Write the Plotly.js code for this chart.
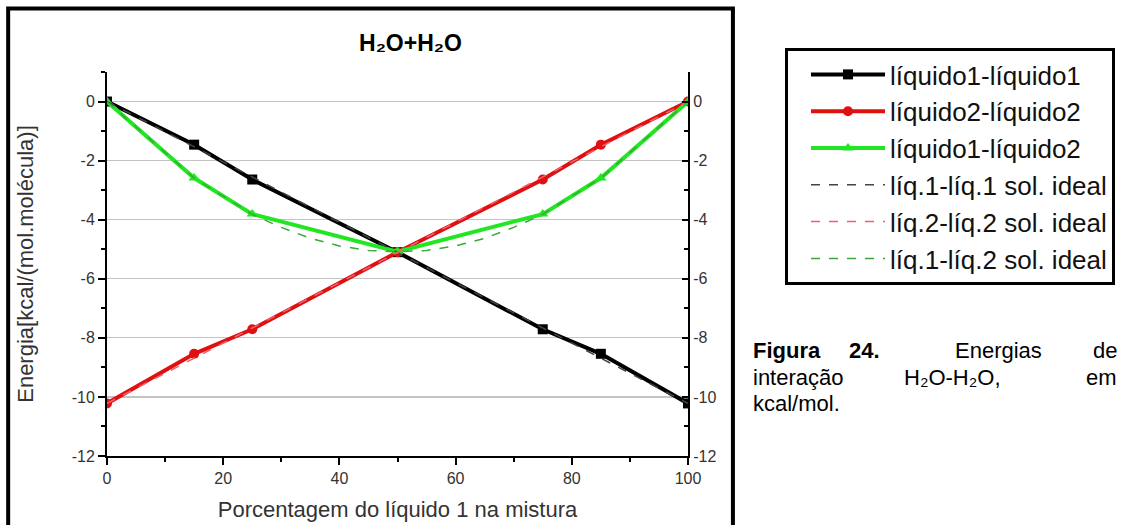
<!DOCTYPE html>
<html>
<head>
<meta charset="utf-8">
<script src="https://cdn.plot.ly/plotly-3.0.1.min.js"></script>
<style>html,body{margin:0;padding:0;background:#fff;}#chart{width:1126px;height:525px;}</style>
</head>
<body>
<div id="chart"></div>
<script>
// ---- data ----
const pct = [0, 15, 25, 50, 75, 85, 100];
const liq11 = [0, -1.46, -2.64, -5.10, -7.71, -8.54, -10.22];
const liq22 = [-10.22, -8.54, -7.71, -5.10, -2.64, -1.46, 0];
const liq12 = [0, -2.59, -3.81, -5.08, -3.81, -2.59, 0];
const pctIdeal = [0, 15, 25, 50, 75, 85, 100];
const liq11Ideal = [0, -1.53, -2.56, -5.11, -7.67, -8.69, -10.22];
const liq22Ideal = [-10.22, -8.69, -7.67, -5.11, -2.56, -1.53, 0];
const pctIdeal12 = [0, 15, 25, 30, 35, 40, 45, 50, 55, 60, 65, 70, 75, 85, 100];
const liq12Ideal = [0, -2.59, -3.82, -4.26, -4.63, -4.89, -5.04, -5.09, -5.04, -4.89, -4.63, -4.26, -3.82, -2.59, 0];
const names = ['líquido1-líquido1', 'líquido2-líquido2', 'líquido1-líquido2',
               'líq.1-líq.1 sol. ideal', 'líq.2-líq.2 sol. ideal', 'líq.1-líq.2 sol. ideal'];
const yTicks = [0, -2, -4, -6, -8, -10, -12];
const xTicks = [0, 20, 40, 60, 80, 100];

// ---- geometry ----
const L = 107, R = 689, T = 72, B = 456;
const W = R - L, H = B - T;
const px = v => (v - L) / W;
const py = v => (B - v) / H;
const FONT = 'Arial, "Liberation Sans", sans-serif';

const traces = [
  {x: pct, y: liq11, name: names[0], mode: 'lines+markers',
   line: {color: '#000000', width: 4}, marker: {symbol: 'square', size: 10, color: '#000000'}},
  {x: pct, y: liq22, name: names[1], mode: 'lines+markers',
   line: {color: '#e01010', width: 4}, marker: {symbol: 'circle', size: 10, color: '#e01010'}},
  {x: pct, y: liq12, name: names[2], mode: 'lines+markers',
   line: {color: '#22e622', width: 4}, marker: {symbol: 'triangle-up', size: 10, color: '#22e622'}},
  {x: pctIdeal, y: liq11Ideal, name: names[3], mode: 'lines',
   line: {color: '#444444', width: 1.5, dash: 'dash'}},
  {x: pctIdeal, y: liq22Ideal, name: names[4], mode: 'lines',
   line: {color: '#f06070', width: 1.5, dash: 'dash'}},
  {x: pctIdeal12, y: liq12Ideal, name: names[5], mode: 'lines',
   line: {color: '#3aa83a', width: 1.5, dash: 'dash'}},
  {x: [], y: [], yaxis: 'y2', showlegend: false, hoverinfo: 'skip', mode: 'lines'}
];

const captionFont = {family: FONT, size: 22, color: '#000'};
const caption = [
  ['Figura', 752, 'left', 350, 'bold'],
  ['24.', 848, 'left', 350, 'bold'],
  ['Energias', 1000, 'center', 350, 'normal'],
  ['de', 1121, 'right', 350, 'normal'],
  ['interação', 752, 'left', 377, 'normal'],
  ['H₂O-H₂O,', 954, 'center', 377, 'normal'],
  ['em', 1121, 'right', 377, 'normal'],
  ['kcal/mol.', 752, 'left', 403, 'normal']
];

const annotations = caption.map(c => ({
  text: c[0], xref: 'paper', yref: 'paper', x: px(c[1]), y: py(c[3]),
  xanchor: c[2], yanchor: 'middle', showarrow: false,
  font: Object.assign({}, captionFont, {weight: c[4]})
}));

const layout = {
  width: 1126, height: 525,
  margin: {l: L, r: 1126 - R, t: T, b: 525 - B, pad: 0},
  paper_bgcolor: '#ffffff', plot_bgcolor: '#ffffff',
  font: {family: FONT, color: '#333'},
  title: {
    text: 'H₂O+H₂O',
    font: {family: FONT, size: 23, color: '#000', weight: 'bold'},
    xref: 'paper', x: px(411), xanchor: 'center',
    yref: 'container', y: 1 - 43 / 525, yanchor: 'middle'
  },
  xaxis: {
    range: [0, 100], tickvals: xTicks, ticktext: xTicks.map(String),
    showline: true, linecolor: '#000', linewidth: 2,
    ticks: 'outside', ticklen: 7, tickwidth: 2, tickcolor: '#000',
    minor: {dtick: 10, tick0: 0, ticks: 'outside', ticklen: 4, tickwidth: 2, tickcolor: '#000', showgrid: false},
    showgrid: false, zeroline: false,
    tickfont: {family: FONT, size: 16, color: '#333'},
    title: {text: 'Porcentagem do líquido 1 na mistura', font: {family: FONT, size: 22, color: '#333'}, standoff: 15},
    automargin: false
  },
  yaxis: {
    range: [-12, 1], tickvals: yTicks, ticktext: yTicks.map(String),
    showline: true, linecolor: '#000', linewidth: 2,
    ticks: 'outside', ticklen: 7, tickwidth: 2, tickcolor: '#000',
    minor: {dtick: 1, tick0: 0, ticks: 'outside', ticklen: 4, tickwidth: 2, tickcolor: '#000', showgrid: false},
    showgrid: true, gridcolor: '#c4c4c4', gridwidth: 1.2, zeroline: false,
    tickfont: {family: FONT, size: 16, color: '#333'},
    title: {text: 'Energia[kcal/(mol.molécula)]', font: {family: FONT, size: 22, color: '#333'}, standoff: 32},
    automargin: false
  },
  yaxis2: {
    range: [-12, 1], tickvals: yTicks, ticktext: yTicks.map(String),
    overlaying: 'y', side: 'right', anchor: 'x',
    showline: true, linecolor: '#000', linewidth: 2,
    ticks: 'inside', ticklen: 6, tickwidth: 2, tickcolor: '#000',
    minor: {dtick: 1, tick0: 0, ticks: 'inside', ticklen: 4, tickwidth: 2, tickcolor: '#000', showgrid: false},
    showgrid: false, zeroline: false,
    tickfont: {family: FONT, size: 16, color: '#333'},
    automargin: false
  },
  showlegend: true,
  legend: {
    x: px(785), y: py(48), xanchor: 'left', yanchor: 'top',
    bgcolor: '#ffffff', bordercolor: '#000', borderwidth: 3,
    font: {family: FONT, size: 26, color: '#111'},
    tracegroupgap: 0, itemwidth: 74, indentation: 18
  },
  shapes: [
    {type: 'rect', xref: 'paper', yref: 'paper', x0: px(8), x1: px(734), y0: py(8.5), y1: py(545),
     line: {color: '#000', width: 4}, fillcolor: 'rgba(0,0,0,0)'}
  ],
  annotations: annotations
};

Plotly.newPlot('chart', traces, layout, {displayModeBar: false, staticPlot: true});
</script>
</body>
</html>
